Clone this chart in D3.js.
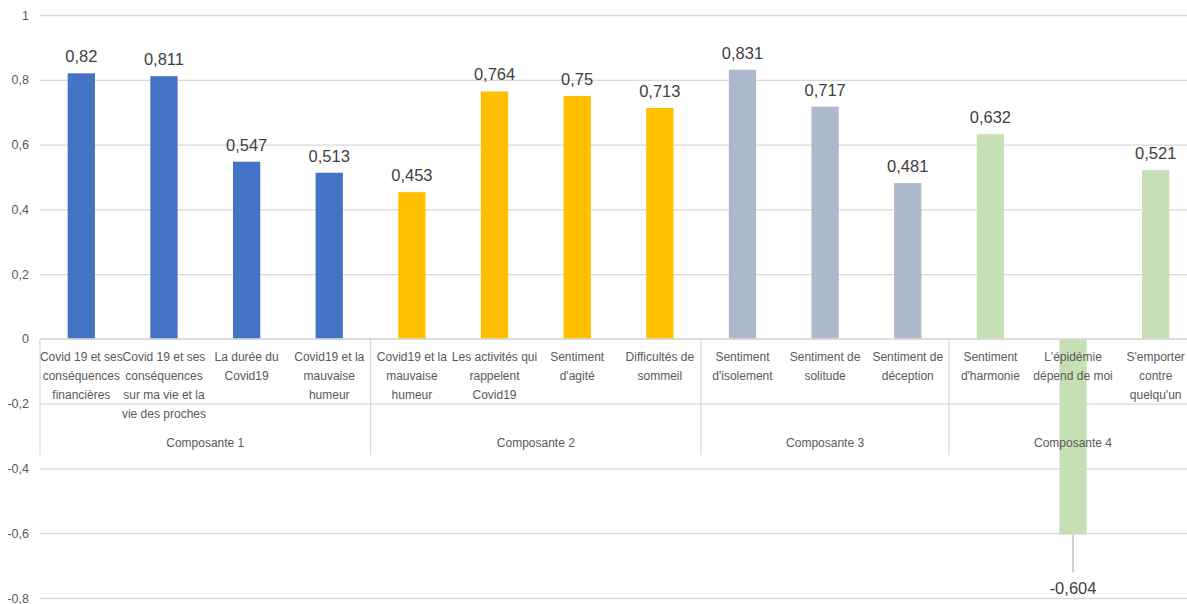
<!DOCTYPE html>
<html>
<head>
<meta charset="utf-8">
<script src="https://cdn.jsdelivr.net/npm/d3@7"></script>
<style>
  html, body { margin: 0; padding: 0; background: #fff; }
  svg { display: block; font-family: "Liberation Sans Narrow", "Liberation Sans", Arial, sans-serif; }
</style>
</head>
<body>
<svg id="chart" width="1187" height="604"></svg>
<script>
// Item labels (line breaks as wrapped under each bar)
const categories = [
  "Covid 19 et ses\nconséquences\nfinancières",
  "Covid 19 et ses\nconséquences\nsur ma vie et la\nvie des proches",
  "La durée du\nCovid19",
  "Covid19 et la\nmauvaise\nhumeur",
  "Covid19 et la\nmauvaise\nhumeur",
  "Les activités qui\nrappelent\nCovid19",
  "Sentiment\nd'agité",
  "Difficultés de\nsommeil",
  "Sentiment\nd'isolement",
  "Sentiment de\nsolitude",
  "Sentiment de\ndéception",
  "Sentiment\nd'harmonie",
  "L'épidémie\ndépend de moi",
  "S'emporter\ncontre\nquelqu'un"
];
// Loadings per item
const values = [0.82, 0.811, 0.547, 0.513, 0.453, 0.764, 0.75, 0.713, 0.831, 0.717, 0.481, 0.632, -0.604, 0.521];
// Component of each item
const groupOf = [0, 0, 0, 0, 1, 1, 1, 1, 2, 2, 2, 3, 3, 3];
const groups = ["Composante 1", "Composante 2", "Composante 3", "Composante 4"];
const groupColors = ["#4472C4", "#FFC000", "#ADB9CA", "#C5E0B4"];
const yTicks = [-0.8, -0.6, -0.4, -0.2, 0, 0.2, 0.4, 0.6, 0.8, 1];

const fr = d3.formatLocale({ decimal: ",", thousands: " ", grouping: [3], currency: ["", " €"], minus: "-" });
const fmtTick = fr.format("~g");
const fmtVal = fr.format(".3~f");

const svg = d3.select("#chart");
const plotLeft = 40, plotRight = 1197, plotTop = 15, plotBottom = 598;

const x = d3.scaleBand().domain(d3.range(categories.length)).range([plotLeft, plotRight])
  .paddingInner(0.67).paddingOuter(0.335);
const y = d3.scaleLinear().domain([-0.8, 1]).range([plotBottom, plotTop]);

// Horizontal gridlines with value axis labels
const yAxis = svg.append("g").attr("transform", `translate(${plotLeft},0)`)
  .call(d3.axisLeft(y).tickValues(yTicks).tickFormat(fmtTick).tickSize(-(plotRight - plotLeft)).tickPadding(11));
yAxis.select(".domain").remove();
yAxis.selectAll(".tick line").attr("stroke", "#D9D9D9").attr("stroke-width", 1.3);
yAxis.selectAll(".tick text").attr("fill", "#595959").style("font-size", "12.5px")
  .style("font-family", "'Liberation Sans Narrow', Arial, sans-serif");

// Bars
svg.append("g").selectAll("rect").data(values).join("rect")
  .attr("x", (d, i) => x(i))
  .attr("width", x.bandwidth())
  .attr("y", d => y(Math.max(0, d)))
  .attr("height", d => Math.abs(y(d) - y(0)))
  .attr("fill", (d, i) => groupColors[groupOf[i]]);

// Category axis line at zero
svg.append("line").attr("x1", plotLeft).attr("x2", plotRight).attr("y1", y(0)).attr("y2", y(0))
  .attr("stroke", "#D9D9D9").attr("stroke-width", 1.3);

// Group separators (multi-level category axis)
const step = x.step();
const groupStarts = groups.map((g, gi) => groupOf.indexOf(gi));
const sepY1 = y(0), sepY2 = 455;
const boundaries = groupStarts.map(s => plotLeft + s * step);
svg.append("g").selectAll("line").data(boundaries).join("line")
  .attr("x1", d => d).attr("x2", d => d).attr("y1", sepY1).attr("y2", sepY2)
  .attr("stroke", "#D9D9D9").attr("stroke-width", 1.3);

// Item labels
const catG = svg.append("g").attr("fill", "#595959").style("font-size", "12px").attr("text-anchor", "middle");
categories.forEach((c, i) => {
  const cx = x(i) + x.bandwidth() / 2;
  const t = catG.append("text").attr("x", cx).attr("y", y(0) + 22);
  c.split("\n").forEach((line, k) => {
    t.append("tspan").attr("x", cx).attr("dy", k === 0 ? 0 : 19).text(line);
  });
});

// Component labels
svg.append("g").selectAll("text").data(groups).join("text")
  .attr("x", (g, gi) => {
    const idx = groupOf.map((v, i) => v === gi ? i : -1).filter(i => i >= 0);
    return (plotLeft + idx[0] * step + plotLeft + (idx[idx.length - 1] + 1) * step) / 2;
  })
  .attr("y", 447)
  .attr("text-anchor", "middle").attr("fill", "#595959").style("font-size", "12px")
  .text(d => d);

// Value labels
const valG = svg.append("g").attr("fill", "#404040").style("font-size", "16.5px").attr("text-anchor", "middle");
values.forEach((v, i) => {
  const cx = x(i) + x.bandwidth() / 2;
  if (v >= 0) {
    valG.append("text").attr("x", cx).attr("y", y(v) - 11).text(fmtVal(v));
  } else {
    svg.append("line").attr("x1", cx).attr("x2", cx).attr("y1", y(v)).attr("y2", y(v) + 38)
      .attr("stroke", "#A6A6A6").attr("stroke-width", 1);
    valG.append("text").attr("x", cx).attr("y", y(v) + 59).text(fmtVal(v));
  }
});
</script>
</body>
</html>
